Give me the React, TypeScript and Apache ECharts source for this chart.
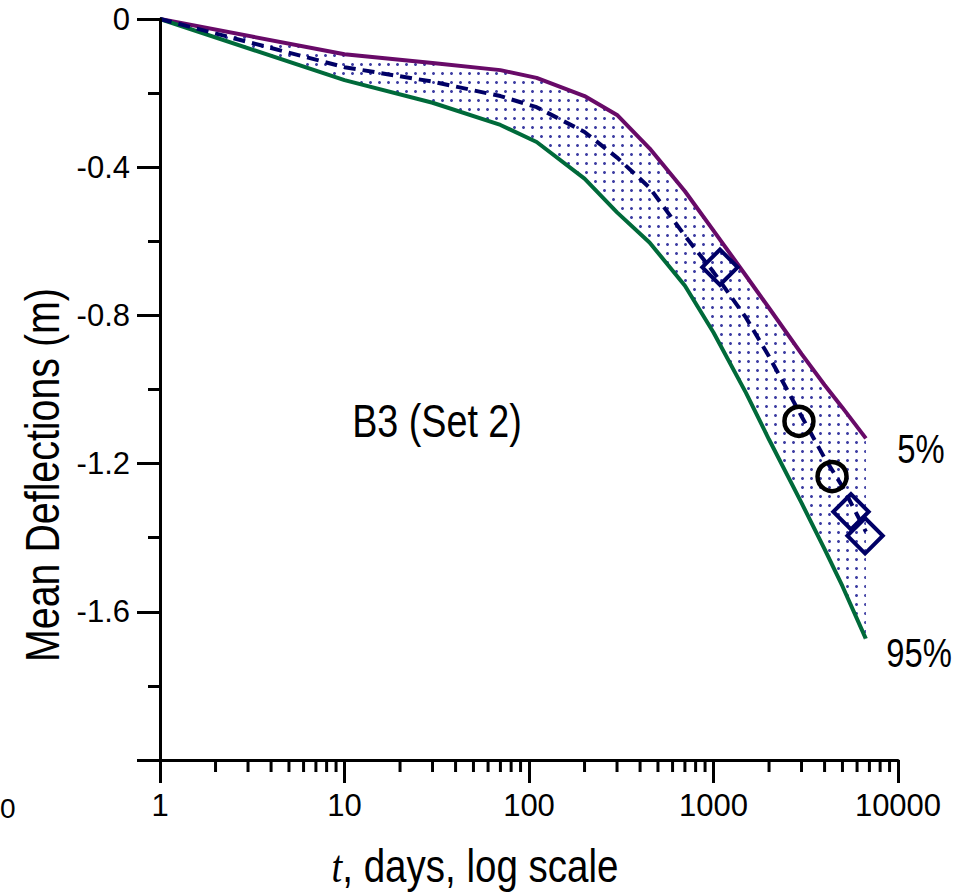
import React, { useEffect, useRef } from 'react';
import * as echarts from 'echarts';

// ---- data ----
const times = [1, 10, 30, 70, 110, 200, 300, 450, 700, 1000, 1500, 2000, 3000, 4000, 5000, 6700];
const p5 = [0, -0.095, -0.119, -0.138, -0.159, -0.208, -0.259, -0.349, -0.465, -0.571, -0.693, -0.78, -0.904, -0.988, -1.049, -1.132];
const p95 = [0, -0.165, -0.226, -0.286, -0.332, -0.431, -0.522, -0.603, -0.72, -0.846, -1.009, -1.135, -1.306, -1.431, -1.531, -1.673];
const meanVals = [0, -0.13, -0.169, -0.208, -0.238, -0.305, -0.374, -0.455, -0.585, -0.683, -0.806, -0.911, -1.072, -1.185, -1.262, -1.384];
const diamondT = [1084, 5560, 6630];
const diamondV = [-0.67, -1.33, -1.395];
const circleT = [2905, 4390];
const circleV = [-1.086, -1.235];
const xMinorTicks = [
  2, 3, 4, 5, 6, 7, 8, 9,
  20, 30, 40, 50, 60, 70, 80, 90,
  200, 300, 400, 500, 600, 700, 800, 900,
  2000, 3000, 4000, 5000, 6000, 7000, 8000, 9000,
];
const yMin = -2;
const yMax = 0;
const yInterval = 0.4;

const FONT = "'Liberation Sans', Arial, 'DejaVu Sans', sans-serif";
const SERIF = "'Liberation Serif', 'DejaVu Serif', serif";
const NARROW = 0.82;

export default function App() {
  const ref = useRef<HTMLDivElement>(null);

  useEffect(() => {
    if (!ref.current) return;
    const chart = echarts.init(ref.current, undefined, { renderer: 'svg' });

    const upper = times.map((t, i) => [t, p5[i]]);
    const lower = times.map((t, i) => [t, p95[i]]);
    const mean = times.map((t, i) => [t, meanVals[i]]);
    const diamonds = diamondT.map((t, i) => [t, diamondV[i]]);
    const circles = circleT.map((t, i) => [t, circleV[i]]);
    const lastT = times[times.length - 1];
    const edgeCover = [
      [lastT, p95[p95.length - 1]],
      [lastT, yMin],
    ];

    const txt = (text: string, x: number, y: number, fontSize: number, extra: any = {}) => ({
      type: 'text',
      x,
      y,
      z: 100,
      scaleX: NARROW,
      ...extra,
      style: { text, fontSize, fontFamily: FONT, fill: '#000', align: 'center', verticalAlign: 'middle', ...(extra.style || {}) },
    });

    const option: any = {
      animation: false,
      backgroundColor: '#ffffff',
      textStyle: { fontFamily: FONT },
      grid: { left: 160, right: 66, top: 19, bottom: 132, containLabel: false, outerBoundsMode: 'none' },
      xAxis: {
        type: 'log',
        logBase: 10,
        min: 1,
        max: 10000,
        z: 10,
        axisLine: { onZero: false, lineStyle: { color: '#000', width: 3 } },
        axisTick: { show: true, length: 23, lineStyle: { color: '#000', width: 3 } },
        minorTick: { show: false },
        splitLine: { show: false },
        axisLabel: {
          margin: 30,
          color: '#000',
          fontSize: 31,
          fontFamily: FONT,
          formatter: (v: number) => String(Math.round(v)),
        },
      },
      yAxis: {
        type: 'value',
        min: yMin,
        max: yMax,
        interval: yInterval,
        z: 10,
        axisLine: { onZero: false, lineStyle: { color: '#000', width: 3 } },
        axisTick: { show: true, length: 23, lineStyle: { color: '#000', width: 3 } },
        minorTick: { show: true, splitNumber: 2, length: 12, lineStyle: { color: '#000', width: 3 } },
        splitLine: { show: false },
        minorSplitLine: { show: false },
        axisLabel: {
          margin: 30,
          color: '#000',
          fontSize: 31,
          fontFamily: FONT,
          formatter: (v: number) => (Math.abs(v - yMin) < 1e-9 ? '' : String(Math.round(v * 10) / 10)),
        },
      },
      series: [
        {
          name: '5%',
          type: 'line',
          data: upper,
          showSymbol: false,
          symbol: 'none',
          lineStyle: { color: '#680a68', width: 4 },
          itemStyle: {
            color: '#680a68',
            decal: {
              symbol: 'circle',
              symbolSize: 1,
              color: '#3c3ca2',
              dashArrayX: [2.2, 5.4],
              dashArrayY: [2.2, 5.6],
              rotation: 0,
            },
          },
          areaStyle: { color: '#ffffff', opacity: 1, origin: 'start' },
          z: 2,
        },
        {
          name: '95%',
          type: 'line',
          data: lower,
          showSymbol: false,
          symbol: 'none',
          lineStyle: { color: '#006a3a', width: 4 },
          itemStyle: { color: '#006a3a' },
          areaStyle: { color: '#ffffff', opacity: 1, origin: 'start' },
          z: 3,
        },
        {
          name: 'edgeCover',
          type: 'line',
          data: edgeCover,
          showSymbol: false,
          symbol: 'none',
          silent: true,
          lineStyle: { color: '#ffffff', width: 3 },
          z: 3,
        },
        {
          name: 'mean',
          type: 'line',
          data: mean,
          showSymbol: false,
          symbol: 'none',
          lineStyle: { color: '#000066', width: 4, type: [12, 7] },
          z: 5,
        },
        {
          name: 'diamonds',
          type: 'scatter',
          data: diamonds,
          symbol: 'rect',
          symbolSize: 25,
          symbolRotate: 45,
          itemStyle: { color: 'rgba(0,0,0,0)', borderColor: '#000066', borderWidth: 4, opacity: 1 },
          z: 6,
        },
        {
          name: 'circles',
          type: 'scatter',
          data: circles,
          symbol: 'circle',
          symbolSize: 29,
          itemStyle: { color: 'rgba(0,0,0,0)', borderColor: '#000000', borderWidth: 4.5, opacity: 1 },
          z: 6,
        },
        {
          name: 'xMinorTicks',
          type: 'custom',
          coordinateSystem: 'cartesian2d',
          clip: false,
          silent: true,
          z: 10,
          data: xMinorTicks.map((v) => [v, yMin]),
          encode: { x: 0, y: 1 },
          renderItem: (params: any, api: any) => {
            const p = api.coord([api.value(0), api.value(1)]);
            return {
              type: 'line',
              shape: { x1: p[0], y1: p[1], x2: p[0], y2: p[1] + 12 },
              style: { stroke: '#000', lineWidth: 3 },
            };
          },
        },
      ],
      graphic: [
        txt('B3 (Set 2)', 437, 421, 46),
        txt('5%', 921, 449, 40),
        txt('95%', 919, 653, 40),
        txt('Mean Deflections (m)', 42, 475, 48, { rotation: Math.PI / 2 }),
        txt('{i|t}, days, log scale', 475, 866, 47, {
          style: {
            rich: { i: { fontSize: 47, fontFamily: SERIF, fontStyle: 'italic', fill: '#000' } },
          },
        }),
        {
          type: 'text',
          x: 0,
          y: 808,
          z: 100,
          style: { text: '0', fontSize: 28, fontFamily: FONT, fill: '#000', align: 'left', verticalAlign: 'middle' },
        },
      ],
    };

    chart.setOption(option);
    return () => chart.dispose();
  }, []);

  return <div ref={ref} style={{ position: 'absolute', left: 0, top: 0, width: 964, height: 892 }} />;
}
